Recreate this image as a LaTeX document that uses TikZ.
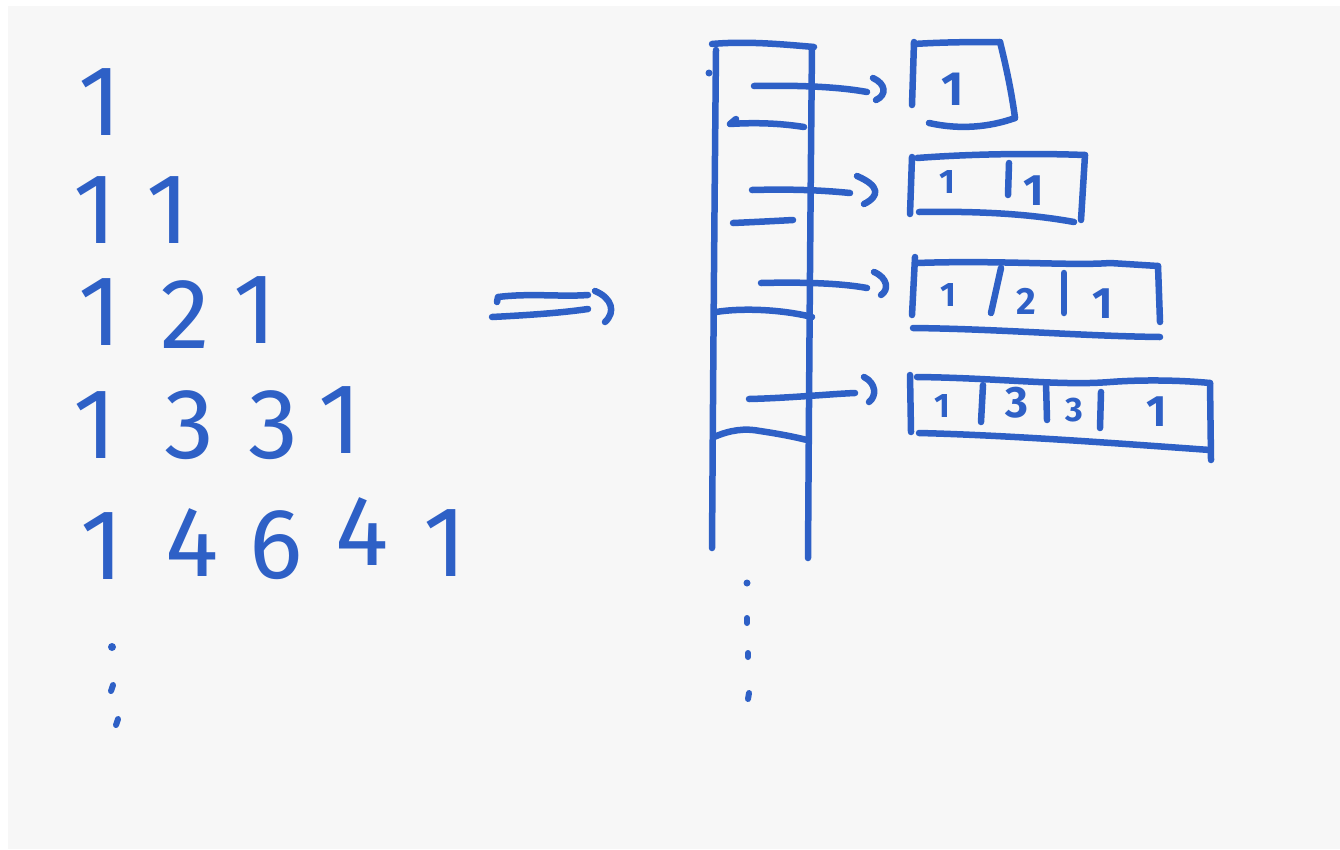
\documentclass[tikz,border=0pt]{standalone}
\usepackage{fontspec}
\setmainfont{Fira Sans}
\definecolor{ink}{RGB}{46,96,198}
\definecolor{paper}{RGB}{247,247,247}

\begin{document}
\begin{tikzpicture}[x=1pt,y=-1pt,
  pen/.style={draw=ink, line width=6.5pt, line cap=round, line join=round},
  bigdigit/.style={text=ink, font=\fontsize{100}{100}\selectfont, inner sep=0pt},
  celldigit/.style={text=ink, font=\bfseries\fontsize{44}{44}\selectfont, inner sep=0pt},
  smalldigit/.style={celldigit, font=\bfseries\fontsize{34}{34}\selectfont},
  inkdot/.style={fill=ink, draw=none}]

\useasboundingbox (0,0) rectangle (1340,849);
\fill[white] (0,0) rectangle (1340,849);
\fill[paper] (8,6) rectangle (1340,849);

% ---- Pascal's triangle, written out row by row ----
\node[bigdigit] (r1a) at (100,102) {1};
\node[bigdigit] (r2a) at (95,210) {1};
\node[bigdigit] (r2b) at (168,210) {1};
\node[bigdigit] (r3a) at (100,312) {1};
\node[bigdigit] (r3b) at (185,315) {2};
\node[bigdigit] (r3c) at (255,310) {1};
\node[bigdigit] (r4a) at (95,425) {1};
\node[bigdigit] (r4b) at (189,425) {3};
\node[bigdigit] (r4c) at (273,425) {3};
\node[bigdigit] (r4d) at (340,420) {1};
\node[bigdigit] (r5a) at (102,546) {1};
\node[bigdigit] (r5b) at (192,543) {4};
\node[bigdigit] (r5c) at (276,545) {6};
\node[bigdigit] (r5d) at (362,532) {4};
\node[bigdigit] (r5e) at (445,543) {1};
% vertical ellipsis under the triangle
\fill[inkdot] (112,647) circle (4);
\draw[pen, line width=6pt] (113,685) -- (111,691);
\draw[pen, line width=6pt] (118,719) -- (116,725);

% ---- double arrow ----
\draw[pen] (497,302) -- (498,297) .. controls (530,293) and (560,297) .. (588,295);
\draw[pen] (492,317) .. controls (530,315) and (560,313) .. (588,309);
\draw[pen] (595,291) .. controls (612,298) and (616,312) .. (605,322);

% ---- array of row pointers ----
\draw[pen] (712,44) .. controls (745,41) and (780,44) .. (814,47);
\draw[pen] (716,50) .. controls (714,250) and (713,400) .. (712,548);
\draw[pen] (812,47) .. controls (810,250) and (809,400) .. (808,558);
\fill[inkdot] (709,73) circle (3.5);
% cell borders
\draw[pen] (736,119) -- (730,124) .. controls (760,122) and (785,124) .. (804,127);
\draw[pen] (733,223) .. controls (755,222) and (775,221) .. (793,220);
\draw[pen] (716,312) .. controls (740,308) and (780,309) .. (812,317);
\draw[pen] (714,437) .. controls (730,430) and (745,428) .. (760,431)
                     .. controls (780,434) and (795,437) .. (807,440);
% continuation dots
\fill[inkdot] (747,583) circle (3.5);
\draw[pen, line width=6pt] (747,618) -- (747,623);
\draw[pen, line width=6pt] (748,653) -- (748,657);
\draw[pen, line width=6pt] (749,693) -- (748,699);

% pointer tails and targets
\coordinate (s1) at (754,86);  \coordinate (t1) at (867,92);
\coordinate (s2) at (752,190); \coordinate (t2) at (850,193);
\coordinate (s3) at (761,283); \coordinate (t3) at (867,288);
\coordinate (s4) at (749,399); \coordinate (t4) at (855,393);

\draw[pen] (s1) .. controls (800,85) and (840,87) .. (t1);
\draw[pen] (873,78) .. controls (886,84) and (887,95) .. (876,100);
\draw[pen] (s2) .. controls (790,189) and (820,190) .. (t2);
\draw[pen] (857,176) .. controls (880,186) and (880,196) .. (864,204);
\draw[pen] (s3) .. controls (800,282) and (840,283) .. (t3);
\draw[pen] (874,272) .. controls (888,278) and (889,290) .. (881,295);
\draw[pen] (s4) .. controls (790,398) and (830,394) .. (t4);
\draw[pen] (864,377) .. controls (876,383) and (877,396) .. (869,402);

% ---- row arrays ----
% row 1
\draw[pen] (914,42) -- (912,105);
\draw[pen] (914,44) .. controls (945,42) and (975,42) .. (1000,42);
\draw[pen] (1000,42) .. controls (1007,70) and (1012,95) .. (1015,118);
\draw[pen] (929,123) .. controls (960,130) and (990,127) .. (1015,118);
\node[celldigit, font=\bfseries\fontsize{48}{48}\selectfont] (c11) at (953,89) {1};

% row 2
\draw[pen] (912,157) -- (910,214);
\draw[pen] (917,158) .. controls (970,154) and (1030,153) .. (1085,155);
\draw[pen] (1085,155) -- (1081,220);
\draw[pen] (919,212) .. controls (980,211) and (1030,214) .. (1074,222);
\draw[pen] (1009,163) -- (1008,195);
\node[smalldigit] (c21) at (947,182) {1};
\node[celldigit] (c22) at (1034,191) {1};

% row 3
\draw[pen] (915,257) -- (912,315);
\draw[pen] (917,263) .. controls (1000,260) and (1070,266) .. (1110,263) -- (1158,266);
\draw[pen] (1158,266) -- (1160,322);
\draw[pen] (913,328) .. controls (1000,329) and (1080,336) .. (1160,337);
\draw[pen] (1001,268) -- (991,313);
\draw[pen] (1064,273) -- (1064,313);
\node[smalldigit] (c31) at (948,295) {1};
\node[celldigit, font=\bfseries\fontsize{38}{38}\selectfont] (c32) at (1026,301) {2};
\node[celldigit] (c33) at (1103,304) {1};

% row 4
\draw[pen] (910,375) -- (911,432);
\draw[pen] (917,377) .. controls (1000,378) and (1060,386) .. (1110,382)
                     .. controls (1150,379) and (1190,381) .. (1210,383);
\draw[pen] (1210,383) -- (1211,460);
\draw[pen] (919,433) .. controls (1000,435) and (1100,442) .. (1210,450);
\draw[pen] (983,385) -- (981,422);
\draw[pen] (1046,383) -- (1047,420);
\draw[pen] (1101,392) -- (1100,428);
\node[smalldigit] (c41) at (942,406) {1};
\node[celldigit] (c42) at (1017,403) {3};
\node[smalldigit] (c43) at (1074,410) {3};
\node[celldigit] (c44) at (1157,412) {1};

\end{tikzpicture}
\end{document}
